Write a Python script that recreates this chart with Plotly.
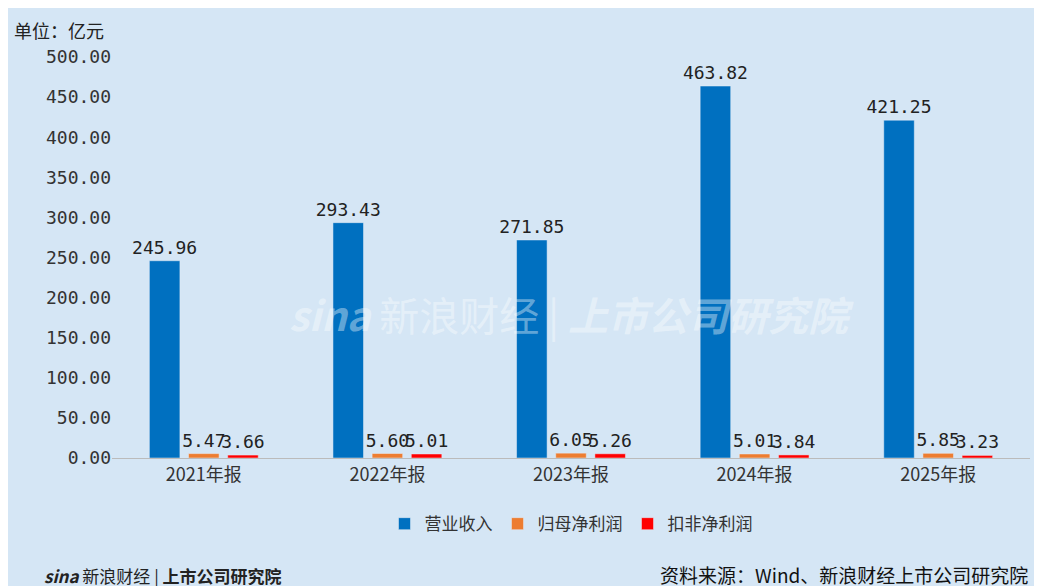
import plotly.graph_objects as go

categories = ["2021年报", "2022年报", "2023年报", "2024年报", "2025年报"]
revenue = [245.96, 293.43, 271.85, 463.82, 421.25]
net_profit = [5.47, 5.60, 6.05, 5.01, 5.85]
deducted_profit = [3.66, 5.01, 5.26, 3.84, 3.23]
tick_vals = [0, 50, 100, 150, 200, 250, 300, 350, 400, 450, 500]

fig = go.Figure()
series = [("营业收入", revenue, "#0070c0"), ("归母净利润", net_profit, "#ed7d31"), ("扣非净利润", deducted_profit, "#ff0000")]
for name, vals, col in series:
    fig.add_bar(x=categories, y=vals, name=name, marker_color=col,
                text=[f"{v:.2f}" for v in vals], textposition="outside",
                constraintext="none",
                textfont=dict(size=18, color="#222", family="DejaVu Sans Mono"),
                cliponaxis=False)

fig.update_layout(
    width=1042, height=586,
    paper_bgcolor="#d5e6f5", plot_bgcolor="#d5e6f5",
    margin=dict(l=104, r=20, t=49, b=136),
    barmode="group", bargap=0.36, bargroupgap=0.22,
    font=dict(family="Noto Sans CJK SC", size=17, color="#333"),
    xaxis=dict(showgrid=False, showline=True, linecolor="#bbb", tickfont=dict(size=18)),
    yaxis=dict(range=[0, 500], tickvals=tick_vals, tickformat=".2f", showgrid=False,
               zeroline=False, tickfont=dict(size=18, family="DejaVu Sans Mono")),
    legend=dict(orientation="h", x=0.5, xanchor="center", y=-0.12, yanchor="top",
                font=dict(size=17)),
    showlegend=True,
)
fig.add_annotation(text="单位：亿元", x=0, y=1, xref="paper", yref="paper",
                   xanchor="left", yanchor="bottom", showarrow=False, font=dict(size=18, color="#222"),
                   xshift=-100, yshift=12)
fig.add_annotation(text="资料来源：Wind、新浪财经上市公司研究院", x=1, y=0, xref="paper", yref="paper",
                   xanchor="right", yanchor="bottom", showarrow=False, font=dict(size=19, color="#111"),
                   yshift=-132, xshift=0)
fig.add_annotation(text="<b><i>sina</i></b> 新浪财经 | <b>上市公司研究院</b>", x=0, y=0, xref="paper", yref="paper",
                   xanchor="left", yanchor="bottom", showarrow=False, font=dict(size=17, color="#222"),
                   yshift=-132, xshift=-70)
fig.add_annotation(text="<b><i>sina</i></b> 新浪财经 | <b><i>上市公司研究院</i></b>", x=0.5, y=0.36, xref="paper", yref="paper",
                   showarrow=False, font=dict(size=40, color="rgba(255,255,255,0.4)"))
fig.write_html("out.html")
